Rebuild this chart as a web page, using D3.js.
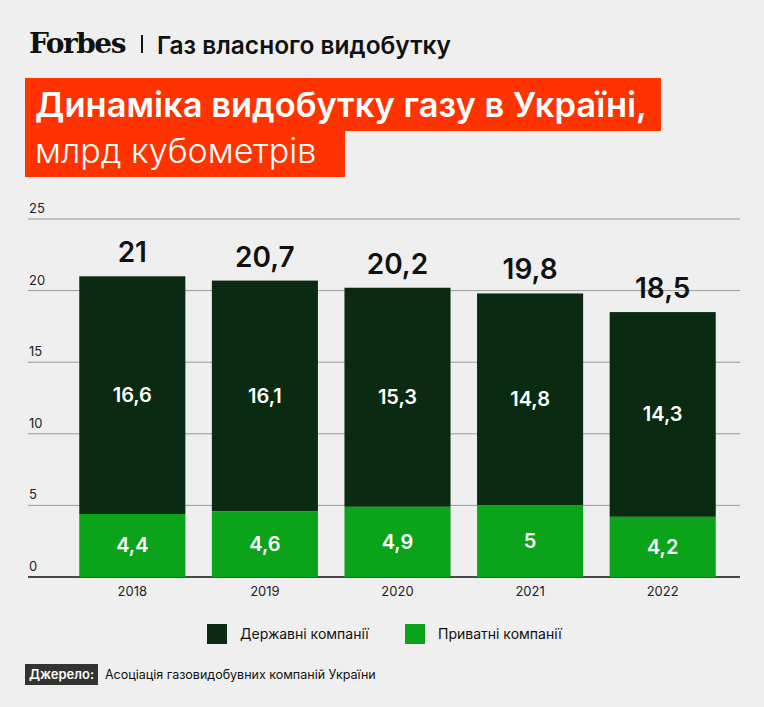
<!DOCTYPE html>
<html><head><meta charset="utf-8">
<script src="https://cdn.jsdelivr.net/npm/d3@7"></script>
<style>body{margin:0;background:#efefef;font-family:Inter,"Noto Sans",sans-serif}</style>
</head><body>
<script>
// data
var years = ['2018', '2019', '2020', '2021', '2022'];
var privateCo = [4.4, 4.6, 4.9, 5, 4.2];
var stateCo = [16.6, 16.1, 15.3, 14.8, 14.3];
var totals = ['21', '20,7', '20,2', '19,8', '18,5'];
var yTicks = [0, 5, 10, 15, 20, 25];

var W = 764, H = 707;
var svg = d3.select('body').append('svg').attr('width', W).attr('height', H);
svg.append('rect').attr('width', W).attr('height', H).attr('fill', '#efefef');

// header
svg.append('text').attr('x', 29).attr('y', 53).text('Forbes')
  .attr('font-family', '"DejaVu Serif",serif').attr('font-weight', 'bold')
  .attr('font-size', 28).attr('letter-spacing', -1.5).attr('fill', '#111');
svg.append('rect').attr('x', 141).attr('y', 35).attr('width', 2).attr('height', 18).attr('fill', '#111');
svg.append('text').attr('x', 157).attr('y', 54).text('Газ власного видобутку')
  .attr('font-size', 24.5).attr('font-weight', 600).attr('fill', '#111');

svg.append('rect').attr('x', 25).attr('y', 78).attr('width', 636).attr('height', 53).attr('fill', '#ff3300');
svg.append('rect').attr('x', 25).attr('y', 130).attr('width', 320).attr('height', 47).attr('fill', '#ff3300');
svg.append('text').attr('x', 35).attr('y', 117).text('Динаміка видобутку газу в Україні,')
  .attr('font-size', 34.5).attr('font-weight', 600).attr('fill', '#fff');
svg.append('text').attr('x', 35).attr('y', 163).text('млрд кубометрів')
  .attr('font-size', 34).attr('font-weight', 300).attr('fill', '#fff');

// scales
var y = d3.scaleLinear().domain([0, 25]).range([577, 219]);
var x = d3.scaleBand().domain(years).range([66, 729]).paddingInner(0.2).paddingOuter(0.1);

var grid = svg.append('g');
yTicks.forEach(function (t) {
  grid.append('line').attr('x1', 28).attr('x2', 740).attr('y1', y(t)).attr('y2', y(t))
    .attr('stroke', t === 0 ? '#111' : '#9a9a9a').attr('stroke-width', t === 0 ? 1.5 : 1);
  grid.append('text').attr('x', 29).attr('y', y(t) - 6).text(t)
    .attr('font-size', 13).attr('fill', '#222');
});

var g = svg.append('g');
years.forEach(function (yr, i) {
  var bx = x(yr), bw = x.bandwidth();
  var top = privateCo[i] + stateCo[i];
  g.append('rect').attr('x', bx).attr('y', y(top)).attr('width', bw)
    .attr('height', y(privateCo[i]) - y(top)).attr('fill', '#0b2a12');
  g.append('rect').attr('x', bx).attr('y', y(privateCo[i])).attr('width', bw)
    .attr('height', y(0) - y(privateCo[i])).attr('fill', '#0aa31a');
  g.append('text').attr('x', bx + bw / 2).attr('y', (y(top) + y(privateCo[i])) / 2 + 7)
    .attr('text-anchor', 'middle').attr('font-size', 20).attr('font-weight', 600).attr('fill', '#fff')
    .text(String(stateCo[i]).replace('.', ','));
  g.append('text').attr('x', bx + bw / 2).attr('y', (y(0) + y(privateCo[i])) / 2 + 7)
    .attr('text-anchor', 'middle').attr('font-size', 20).attr('font-weight', 600).attr('fill', '#fff')
    .text(String(privateCo[i]).replace('.', ','));
  g.append('text').attr('x', bx + bw / 2).attr('y', y(top) - 14)
    .attr('text-anchor', 'middle').attr('font-size', 28).attr('font-weight', 600).attr('fill', '#111')
    .text(totals[i]);
  g.append('text').attr('x', bx + bw / 2).attr('y', 596)
    .attr('text-anchor', 'middle').attr('font-size', 13).attr('fill', '#222').text(yr);
});

// legend
var legend = [['Державні компанії', '#0b2a12', 207], ['Приватні компанії', '#0aa31a', 405]];
legend.forEach(function (l) {
  svg.append('rect').attr('x', l[2]).attr('y', 624).attr('width', 20).attr('height', 20).attr('fill', l[1]);
  svg.append('text').attr('x', l[2] + 33).attr('y', 639).text(l[0]).attr('font-size', 14).attr('fill', '#111');
});

// source
svg.append('rect').attr('x', 25).attr('y', 664).attr('width', 73).attr('height', 21).attr('fill', '#333');
svg.append('text').attr('x', 29).attr('y', 679).text('Джерело:').attr('font-size', 13)
  .attr('font-weight', 600).attr('fill', '#fff');
svg.append('text').attr('x', 105).attr('y', 679).text('Асоціація газовидобувних компаній України')
  .attr('font-size', 12.5).attr('fill', '#111');
</script>
</body></html>
